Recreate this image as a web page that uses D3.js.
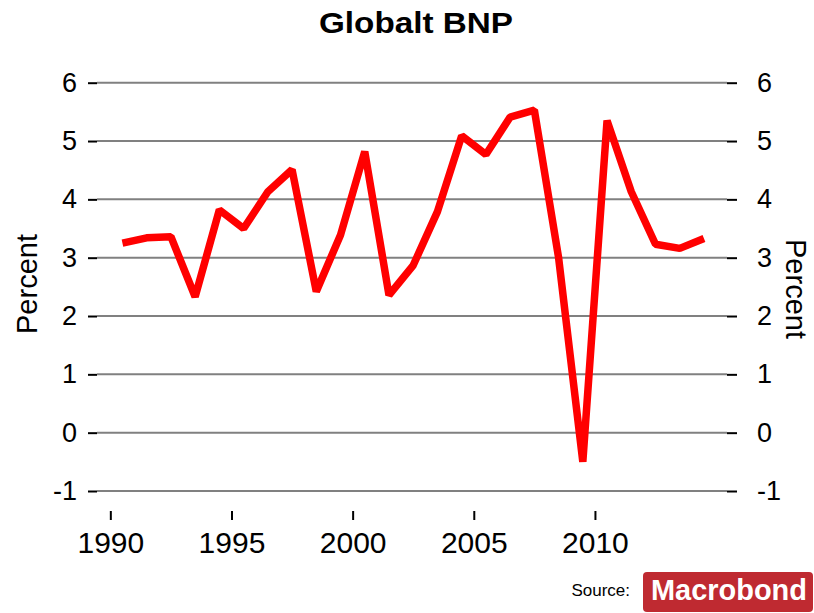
<!DOCTYPE html>
<html>
<head>
<meta charset="utf-8">
<script src="https://cdn.jsdelivr.net/npm/d3@7"></script>
<style>
  body { margin: 0; background: #fff; }
  svg { display: block; font-family: "Liberation Sans", Arial, sans-serif; }
</style>
</head>
<body>
<svg id="chart" width="814" height="613"></svg>
<script>
// Data
const years = [1990, 1991, 1992, 1993, 1994, 1995, 1996, 1997, 1998, 1999,
               2000, 2001, 2002, 2003, 2004, 2005, 2006, 2007, 2008, 2009,
               2010, 2011, 2012, 2013, 2014];
const growth = [3.25, 3.34, 3.36, 2.33, 3.82, 3.50, 4.13, 4.51, 2.42, 3.39,
                4.82, 2.36, 2.87, 3.79, 5.09, 4.77, 5.41, 5.53, 3.00, -0.50,
                5.35, 4.13, 3.23, 3.16, 3.33];
const yTicks = [-1, 0, 1, 2, 3, 4, 5, 6];
const xTicks = [1990, 1995, 2000, 2005, 2010];

const svg = d3.select("#chart");

const plotLeft = 97, plotRight = 727, plotTop = 82.7, plotBottom = 491;

const x = d3.scaleLinear().domain([1989.45, 2015.45]).range([plotLeft, plotRight]);
const y = d3.scaleLinear().domain([-1, 6]).range([plotBottom, plotTop]);

// plain hyphen for negatives, like the original
const fmt = d => String(d);

// Title
svg.append("text")
    .attr("x", 416).attr("y", 33)
    .attr("text-anchor", "middle")
    .attr("font-weight", "bold")
    .attr("font-size", 30)
    .attr("textLength", 194)
    .attr("lengthAdjust", "spacingAndGlyphs")
    .text("Globalt BNP");

// Grid lines
svg.append("g")
    .selectAll("line")
    .data(yTicks)
    .join("line")
        .attr("x1", plotLeft).attr("x2", plotRight)
        .attr("y1", d => y(d)).attr("y2", d => y(d))
        .attr("stroke", "#808080")
        .attr("stroke-width", 2);

// Left axis
const yLeft = svg.append("g")
    .attr("transform", `translate(${plotLeft},0)`)
    .call(d3.axisLeft(y).tickValues(yTicks).tickSize(9).tickPadding(11).tickFormat(fmt));
// Right axis
const yRight = svg.append("g")
    .attr("transform", `translate(${plotRight},0)`)
    .call(d3.axisRight(y).tickValues(yTicks).tickSize(10).tickPadding(20).tickFormat(fmt));

[yLeft, yRight].forEach(g => {
    g.select(".domain").remove();
    g.selectAll(".tick line").attr("stroke", "#000").attr("stroke-width", 2);
    g.selectAll(".tick text")
        .attr("font-size", 27)
        .attr("font-family", "Liberation Sans, Arial, sans-serif")
        .attr("fill", "#000");
});

// X axis
const xAxis = svg.append("g")
    .attr("transform", "translate(0,511)")
    .call(d3.axisBottom(x).tickValues(xTicks).tickSize(9).tickPadding(12).tickFormat(fmt));
xAxis.select(".domain").remove();
xAxis.selectAll(".tick line").attr("stroke", "#000").attr("stroke-width", 2);
xAxis.selectAll(".tick text")
    .attr("font-size", 30)
    .attr("font-family", "Liberation Sans, Arial, sans-serif")
    .attr("fill", "#000");

// Axis titles
svg.append("text")
    .attr("transform", "translate(37,284) rotate(-90)")
    .attr("text-anchor", "middle")
    .attr("font-size", 29)
    .text("Percent");
svg.append("text")
    .attr("transform", "translate(786,289) rotate(90)")
    .attr("text-anchor", "middle")
    .attr("font-size", 29)
    .text("Percent");

// Line
const line = d3.line()
    .x((d, i) => x(years[i] + 0.5))
    .y(d => y(d));

svg.append("path")
    .datum(growth)
    .attr("fill", "none")
    .attr("stroke", "#ff0000")
    .attr("stroke-width", 7.5)
    .attr("stroke-linejoin", "bevel")
    .attr("d", line);

// Source + logo
svg.append("text")
    .attr("x", 630).attr("y", 596)
    .attr("text-anchor", "end")
    .attr("font-size", 17)
    .text("Source:");

svg.append("rect")
    .attr("x", 643).attr("y", 572)
    .attr("width", 170).attr("height", 40)
    .attr("rx", 4)
    .attr("fill", "#bf2a31");

svg.append("text")
    .attr("x", 651).attr("y", 600)
    .attr("font-size", 30)
    .attr("font-weight", "bold")
    .attr("fill", "#fff")
    .attr("textLength", 156)
    .attr("lengthAdjust", "spacingAndGlyphs")
    .text("Macrobond");
</script>
</body>
</html>
